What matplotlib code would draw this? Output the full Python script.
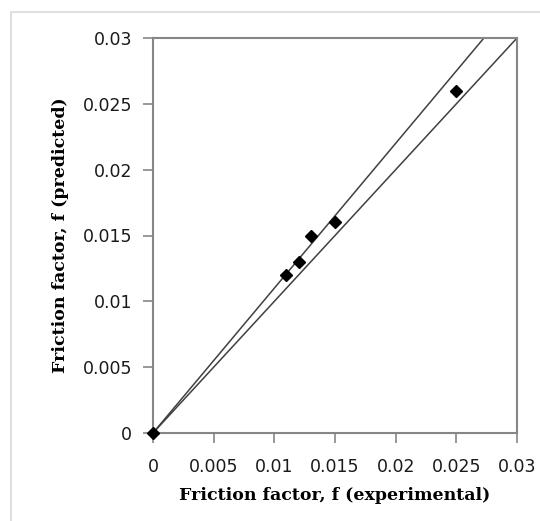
import numpy as np
import matplotlib.pyplot as plt
from matplotlib.patches import Rectangle

# %% podaci
f_exp = [0.0, 0.011, 0.012, 0.013, 0.015, 0.025]
f_pred = [0.0, 0.012, 0.013, 0.015, 0.016, 0.026]
ref_x = [0.0, 0.03]
slope_upper = 1.1
ticks = [0, 0.005, 0.01, 0.015, 0.02, 0.025, 0.03]
tick_labels = ['0', '0.005', '0.01', '0.015', '0.02', '0.025', '0.03']

# %% grafik
fig = plt.figure(figsize=(5.4, 5.21), dpi=100)
fig.patches.append(Rectangle((11 / 540, -0.01), 1.0, 1 - 12 / 521 + 0.01,
                             transform=fig.transFigure, fill=False,
                             edgecolor='#d9d9d9', linewidth=1.2))

ax = fig.add_axes([153 / 540, 88 / 521, 364 / 540, 395 / 521])

ax.plot(ref_x, ref_x, color='#404040', linewidth=1.1, zorder=2)
ax.plot(ref_x, [v * slope_upper for v in ref_x], color='#404040', linewidth=1.1, zorder=2)
ax.plot(f_exp, f_pred, linestyle='none', marker='D', markersize=6.5,
        color='black', zorder=3, clip_on=False)

ax.set_xlim(0, 0.03)
ax.set_ylim(0, 0.03)
ax.set_xticks(ticks)
ax.set_xticklabels(tick_labels)
ax.set_yticks(ticks)
ax.set_yticklabels(tick_labels)

for s in ax.spines.values():
    s.set_color('#868686')
    s.set_linewidth(1.5)

ax.tick_params(direction='out', length=7, width=1.2, color='#868686',
               labelsize=12.5, labelcolor='#1a1a1a')
ax.tick_params(axis='x', pad=11)
ax.tick_params(axis='y', pad=8)
for lbl in ax.get_xticklabels() + ax.get_yticklabels():
    lbl.set_family('DejaVu Sans')

ax.set_xlabel('Friction factor, f (experimental)', fontfamily='DejaVu Serif',
              fontweight='bold', fontsize=12.5, labelpad=8)
ax.set_ylabel('Friction factor, f (predicted)', fontfamily='DejaVu Serif',
              fontweight='bold', fontsize=12.5, labelpad=10)

plt.savefig('out.png', dpi=100)
